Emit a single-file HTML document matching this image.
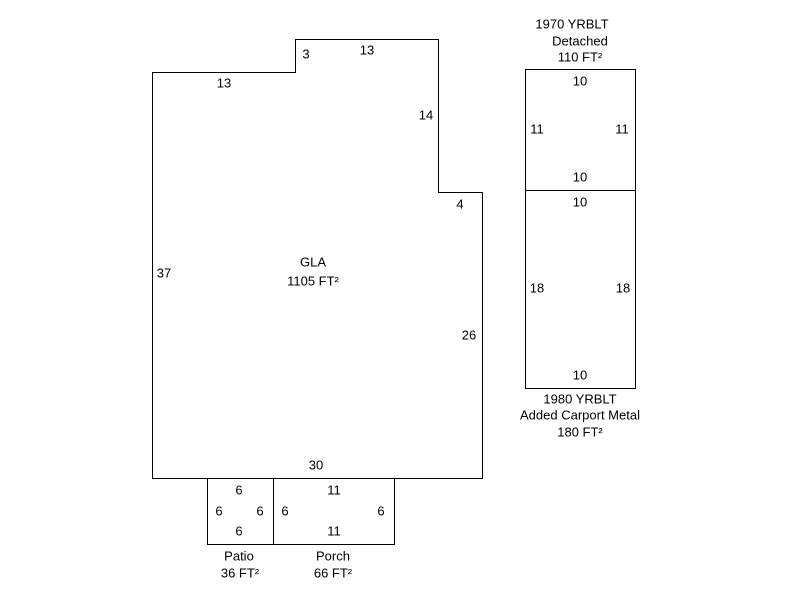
<!DOCTYPE html>
<html><head><meta charset="utf-8"><style>
html,body{margin:0;padding:0;background:#fff;}
svg{display:block;}
text{font-family:"Liberation Sans",Arial,sans-serif;font-size:13px;fill:#000;text-anchor:middle;dominant-baseline:central;}
</style></head><body>
<svg width="800" height="600" viewBox="0 0 800 600" xmlns="http://www.w3.org/2000/svg">
<g fill="none" stroke="#000" stroke-width="1">
<polygon points="152.5,72.5 295.5,72.5 295.5,39.5 438.5,39.5 438.5,192.5 482.5,192.5 482.5,478.5 152.5,478.5"/>
<rect x="207.5" y="478.5" width="66" height="66"/>
<rect x="273.5" y="478.5" width="121" height="66"/>
<rect x="525.5" y="69.5" width="110" height="121"/>
<rect x="525.5" y="190.5" width="110" height="198"/>
</g>
<text x="224" y="83">13</text>
<text x="306" y="54">3</text>
<text x="367" y="50">13</text>
<text x="426" y="115">14</text>
<text x="460" y="204">4</text>
<text x="164" y="273">37</text>
<text x="313" y="262">GLA</text>
<text x="313" y="281">1105 FT²</text>
<text x="469" y="335">26</text>
<text x="316" y="465">30</text>
<text x="239" y="490">6</text>
<text x="219" y="511">6</text>
<text x="260" y="511">6</text>
<text x="239" y="531">6</text>
<text x="334" y="490">11</text>
<text x="285" y="511">6</text>
<text x="381" y="511">6</text>
<text x="334" y="531">11</text>
<text x="239" y="556">Patio</text>
<text x="240" y="573">36 FT²</text>
<text x="333" y="556">Porch</text>
<text x="333" y="573">66 FT²</text>
<text x="572" y="24">1970 YRBLT</text>
<text x="580" y="41">Detached</text>
<text x="580" y="57">110 FT²</text>
<text x="580" y="81">10</text>
<text x="537" y="129">11</text>
<text x="622" y="129">11</text>
<text x="580" y="177">10</text>
<text x="580" y="202">10</text>
<text x="537" y="288">18</text>
<text x="623" y="288">18</text>
<text x="580" y="375">10</text>
<text x="580" y="399">1980 YRBLT</text>
<text x="580" y="415">Added Carport Metal</text>
<text x="580" y="432">180 FT²</text>
</svg>
</body></html>
